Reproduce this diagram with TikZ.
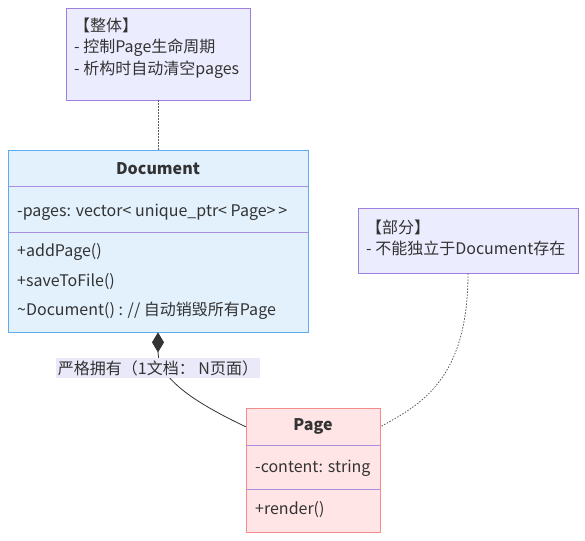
\documentclass[tikz,border=0pt]{standalone}
\usepackage{fontspec}
\setmainfont{Noto Sans CJK SC}
\usepackage{tikz}
\usetikzlibrary{positioning,arrows.meta}

\definecolor{notefill}{HTML}{ECECFF}
\definecolor{noteline}{HTML}{9D7FE0}
\definecolor{docfill}{HTML}{E3F1FD}
\definecolor{docline}{HTML}{5CACF5}
\definecolor{pagefill}{HTML}{FFE5E5}
\definecolor{pageline}{HTML}{F58A8A}
\definecolor{sepline}{HTML}{A88FE0}
\definecolor{lblfill}{HTML}{E9E9FA}
\definecolor{ink}{HTML}{333333}

\begin{document}
\begin{tikzpicture}[x=1pt, y=-1pt,
    txt/.style={font=\fontsize{16}{21.5}\selectfont, text=ink, inner sep=0pt, anchor=west, align=left},
    headtxt/.style={font=\fontsize{16}{19}\selectfont\bfseries, text=ink, inner sep=0pt},
    notebox/.style={draw=noteline, fill=notefill, line width=0.8pt},
    docbox/.style={draw=docline, fill=docfill, line width=0.8pt},
    pagebox/.style={draw=pageline, fill=pagefill, line width=0.8pt},
    sep/.style={draw=sepline, line width=0.8pt},
    dotline/.style={draw=ink!80, line width=0.8pt, dash pattern=on 1.5pt off 1.5pt},
    own/.style={draw=ink, line width=0.8pt},
    lbl/.style={fill=lblfill, text=ink, font=\fontsize{16}{19}\selectfont, inner sep=1pt, minimum width=204pt, minimum height=20pt}
]
    \useasboundingbox (0,0) rectangle (585,540);

    % 1. The two notes
    \node[notebox, minimum width=184pt, minimum height=92pt] (whole) at (158,54) {};
    \node[txt] (wholetxt) at (74,48) {【整体】\\- 控制Page生命周期\\- 析构时自动清空pages};

    \node[notebox, minimum width=220pt, minimum height=65pt] (part) at (468,240.5) {};
    \node[txt] (parttxt) at (366,238) {【部分】\\- 不能独立于Document存在};

    % 2. The Document class
    \node[docbox, minimum width=300pt, minimum height=182pt] (doc) at (158,241) {};
    \node[headtxt, minimum width=300pt, minimum height=37pt, below=0pt of doc.north] (dochead) {Document};
    \draw[sep] (doc.north west) ++(0,37) -- ++(300,0);
    \draw[sep] (doc.north west) ++(0,83) -- ++(300,0);
    \node[txt] (docattr) at (17,212) {-pages: vector< unique\_ptr< Page{>}\,{>}};
    \foreach \i/\t/\y in {1/{+addPage()}/252, 2/{+saveToFile()}/282, 3/{\textasciitilde Document() : // 自动销毁所有Page}/311} {
        \node[txt] (docm\i) at (17,\y) {\t};
    }

    % 3. The Page class
    \node[pagebox, minimum width=134pt, minimum height=124pt] (page) at (313,470) {};
    \node[headtxt, minimum width=134pt, minimum height=38pt, below=0pt of page.north] (pagehead) {Page};
    \draw[sep] (page.north west) ++(0,38) -- ++(134,0);
    \draw[sep] (page.north west) ++(0,82) -- ++(134,0);
    \node[txt] (pageattr) at (255,468) {-content: string};
    \node[txt] (pagem1) at (255,510) {+render()};

    % 4. Links
    \draw[dotline] (whole) -- (doc);
    \draw[own, {Diamond[length=20pt,width=12pt]}-] (doc.south) .. controls (158,380) and (200,405) .. (pagehead.west);
    \node[lbl] (ownlbl) at (158,368) {严格拥有（1文档： N页面）};
    \draw[dotline] (part.south) .. controls (468,380) and (420,405) .. (pagehead.east);

\end{tikzpicture}
\end{document}
